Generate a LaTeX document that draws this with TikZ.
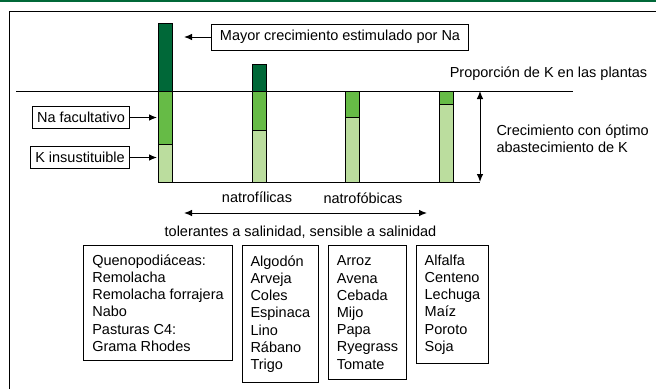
\documentclass[tikz,border=0pt]{standalone}
\usepackage{fontspec}
\setmainfont{Liberation Sans}
\usepackage{xcolor}
\usepackage{tikz}
\usetikzlibrary{shapes,arrows,arrows.meta,positioning,calc}

\definecolor{kdark}{RGB}{0,104,56}
\definecolor{kmid}{RGB}{102,187,70}
\definecolor{klight}{RGB}{187,221,158}

\tikzset{
    flecha/.style={-{Latex[length=8pt,width=6.5pt]}},
    dflecha/.style={{Latex[length=8pt,width=6.5pt]}-{Latex[length=8pt,width=6.5pt]}},
    txt/.style={font=\fontsize{14.5}{17.4}\selectfont, inner sep=0pt},
    lbl/.style={draw, line width=1pt, font=\fontsize{14.5}{17.4}\selectfont, inner xsep=5pt, inner ysep=0pt, minimum height=21.6pt},
    lista/.style={draw, line width=1pt, font=\fontsize{14.5}{17.2}\selectfont, align=left, anchor=north west, inner xsep=8pt, inner ysep=0pt}
}

\begin{document}
\begin{tikzpicture}[x=1pt, y=-1pt, line width=1pt]
    \useasboundingbox (0,0) rectangle (656,389);

    % Frame
    \fill[kdark] (0,0) rectangle (656,2);
    \draw (9,389) -- (9,11) -- (656,11);

    % Bars
    \foreach \bx/\btop/\bmid in {158/23/144, 252/64/130, 345/91/117, 439/91/104} {
        \draw[fill=klight] (\bx,\bmid) rectangle (\bx+14.5,182);
        \draw[fill=kmid] (\bx,91) rectangle (\bx+14.5,\bmid);
        \draw[fill=kdark] (\bx,\btop) rectangle (\bx+14.5,91);
    }

    % Lines
    \draw (16,91) -- (573,91);
    \draw (158,182) -- (480,182);
    \coordinate (optop) at (480,91);
    \coordinate (opbot) at (480,182);
    \draw[dflecha] (optop) -- (opbot);

    % Labels with arrows
    \node[lbl, inner xsep=8pt, minimum height=26pt] (mayor) at (340,37) {Mayor crecimiento estimulado por Na};
    \coordinate (mayorfin) at (184,37);
    \draw[flecha] (mayor.west) -- (mayorfin);

    \node[lbl] (nafac) at (81,117.5) {Na facultativo};
    \coordinate (nafacfin) at (157,117.5);
    \draw[flecha] (nafac.east) -- (nafacfin);

    \node[lbl] (kinsus) at (80,157.5) {K insustituible};
    \coordinate (kinsusfin) at (157,157.5);
    \draw[flecha] (kinsus.east) -- (kinsusfin);

    \node[txt] (prop) at (548.5,74) {Proporción de K en las plantas};
    \node[txt, align=left, anchor=west] (crec) at (496,139) {Crecimiento con óptimo\\abastecimiento de K};

    % Salinity axis
    \node[txt] (natfil) at (257,197) {natrofílicas};
    \node[txt] (natfob) at (363,198) {natrofóbicas};
    \coordinate (salizq) at (184,213);
    \coordinate (salder) at (427,213);
    \draw[dflecha] (salizq) -- (salder);
    \node[txt] (tolsens) at (300.5,232) {tolerantes a salinidad, sensible a salinidad};

    % Crop lists
    \node[lista, minimum width=149pt, minimum height=115pt] (lista1) at (83,245) {Quenopodiáceas:\\Remolacha\\Remolacha forrajera\\Nabo\\Pasturas C4:\\Grama Rhodes};
    \node[lista, minimum width=75pt, minimum height=137pt] (lista2) at (242,245) {Algodón\\Arveja\\Coles\\Espinaca\\Lino\\Rábano\\Trigo};
    \node[lista, minimum width=78pt, minimum height=134pt] (lista3) at (328,245) {Arroz\\Avena\\Cebada\\Mijo\\Papa\\Ryegrass\\Tomate};
    \node[lista, minimum width=72pt, minimum height=118pt] (lista4) at (416,245) {Alfalfa\\Centeno\\Lechuga\\Maíz\\Poroto\\Soja};
\end{tikzpicture}
\end{document}
